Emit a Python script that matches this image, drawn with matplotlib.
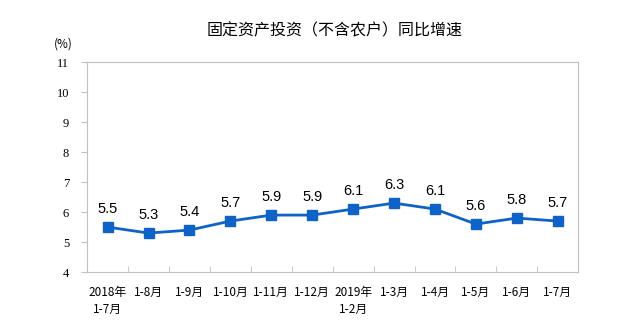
import matplotlib
matplotlib.use("Agg")
import matplotlib.pyplot as plt
import numpy as np

plt.rcParams['font.family'] = ['Noto Sans CJK SC', 'DejaVu Sans']

categories = ['2018年\n1-7月', '1-8月', '1-9月', '1-10月', '1-11月', '1-12月',
              '2019年\n1-2月', '1-3月', '1-4月', '1-5月', '1-6月', '1-7月']
growth = [5.5, 5.3, 5.4, 5.7, 5.9, 5.9, 6.1, 6.3, 6.1, 5.6, 5.8, 5.7]
yticks = [4, 5, 6, 7, 8, 9, 10, 11]

line_color = '#0f63c6'

fig = plt.figure(figsize=(6.41, 3.27), dpi=100)
ax = fig.add_axes([0.136, 0.168, 0.766, 0.642])

x = np.arange(len(categories))
ax.plot(x, growth, color=line_color, linewidth=2, marker='s', markersize=6.5,
        markerfacecolor=line_color, markeredgecolor=line_color)

for xi, v in zip(x, growth):
    ax.text(xi, v + 0.38, f'{v}', ha='center', va='bottom', fontsize=10.5,
            family=['Liberation Sans', 'DejaVu Sans'])

ax.set_xlim(-0.5, len(categories) - 0.5)
ax.set_ylim(4, 11)
ax.set_yticks(yticks)
ax.set_yticklabels([str(t) for t in yticks], fontsize=9,
                   family=['Liberation Serif', 'DejaVu Serif'])

ax.set_xticks(x)
ax.set_xticklabels(categories, fontsize=8.5, linespacing=1.4, va='top')
ax.tick_params(axis='x', length=0, pad=10)
ax.set_xticks(np.arange(0.5, len(categories) - 1, 1), minor=True)
ax.tick_params(axis='x', which='minor', direction='in', length=4, color='#c0c0c0')
ax.tick_params(axis='y', direction='out', length=4, color='#c0c0c0', pad=9)

for s in ax.spines.values():
    s.set_color('#c0c0c0')
    s.set_linewidth(0.8)

fig.text(0.522, 0.905, '固定资产投资（不含农户）同比增速', ha='center', va='center',
         fontsize=11.5)
fig.text(0.098, 0.866, '(%)', ha='center', va='center', fontsize=8.5)

fig.savefig('out.png', dpi=100)
